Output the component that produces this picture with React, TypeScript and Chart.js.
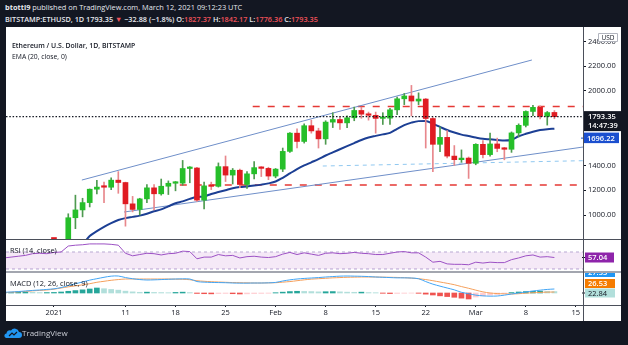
import React, { useEffect, useRef } from 'react';
import { Chart, registerables } from 'chart.js';

Chart.register(...registerables);

// ---------------- data (day 0 = 1 Jan 2021) ----------------
const OPEN = [
  737, 730, 775, 978, 1041, 1100, 1208, 1225, 1224, 1281,
  1262, 1090, 1045, 1130, 1219, 1171, 1232, 1256, 1257, 1375,
  1379, 1120, 1235, 1231, 1390, 1322, 1361, 1246, 1332, 1382,
  1376, 1314, 1370, 1513, 1660, 1593, 1720, 1678, 1614, 1749,
  1770, 1743, 1784, 1843, 1813, 1804, 1779, 1781, 1848, 1937,
  1960, 1919, 1935, 1778, 1570, 1626, 1475, 1446, 1459, 1417,
  1570, 1487, 1573, 1537, 1530, 1662, 1723, 1835, 1868, 1795,
  1827,
];
const HIGH = [
  749, 787, 1010, 1160, 1135, 1210, 1280, 1265, 1300, 1350,
  1265, 1150, 1135, 1245, 1245, 1290, 1275, 1270, 1440, 1390,
  1385, 1265, 1265, 1420, 1476, 1375, 1370, 1350, 1430, 1390,
  1385, 1375, 1540, 1665, 1695, 1735, 1765, 1700, 1760, 1825,
  1790, 1800, 1870, 1870, 1830, 1830, 1825, 1860, 1950, 1980,
  2045, 1985, 1940, 1785, 1710, 1680, 1560, 1525, 1468, 1575,
  1600, 1660, 1620, 1545, 1670, 1735, 1840, 1885, 1880, 1835,
  1842,
];
const LOW = [
  716, 715, 768, 890, 985, 1065, 1170, 1100, 1205, 1175,
  910, 1025, 1000, 1100, 1040, 1160, 1165, 1195, 1240, 1260,
  1110, 1050, 1205, 1225, 1270, 1250, 1220, 1215, 1290, 1310,
  1285, 1300, 1350, 1505, 1540, 1580, 1660, 1540, 1570, 1705,
  1690, 1705, 1760, 1780, 1765, 1660, 1730, 1730, 1810, 1890,
  1800, 1890, 1540, 1350, 1510, 1460, 1400, 1425, 1295, 1405,
  1460, 1475, 1510, 1445, 1505, 1630, 1710, 1800, 1775, 1725,
  1776,
];
const CLOSE = [
  730, 775, 978, 1041, 1100, 1208, 1225, 1224, 1281, 1262,
  1090, 1045, 1130, 1219, 1171, 1232, 1256, 1257, 1375, 1379,
  1120, 1235, 1231, 1390, 1322, 1361, 1246, 1332, 1382, 1376,
  1314, 1370, 1513, 1660, 1593, 1720, 1678, 1614, 1749, 1770,
  1743, 1784, 1843, 1813, 1804, 1779, 1781, 1848, 1937, 1960,
  1919, 1935, 1778, 1570, 1626, 1475, 1446, 1459, 1417, 1570,
  1487, 1573, 1537, 1530, 1662, 1723, 1835, 1868, 1795, 1826,
  1793,
];

const EMA_START_DAY = 4;
const EMA20 = [
  760, 830, 870, 905, 935, 960, 975, 985, 995, 1010,
  1030, 1045, 1070, 1095, 1110, 1130, 1145, 1150, 1170, 1185,
  1200, 1215, 1225, 1230, 1237, 1245, 1255, 1270, 1300, 1335,
  1370, 1400, 1425, 1450, 1480, 1505, 1530, 1555, 1580, 1605,
  1625, 1638, 1650, 1662, 1695, 1725, 1745, 1757, 1758, 1735,
  1710, 1685, 1665, 1648, 1637, 1625, 1615, 1610, 1605, 1600,
  1607, 1635, 1655, 1672, 1685, 1692, 1696,
];

// indicator series start on day -7 (25 Dec 2020)
const IND_START_DAY = -7;
const RSI = [
  56, 58, 60, 62, 66, 67, 66, 69, 70, 84,
  86, 87, 89, 89, 89, 88, 86, 67, 61, 64,
  67, 66, 63, 66, 67, 72, 71, 54, 58, 58,
  64, 61, 62, 56, 59, 60, 58, 57, 59, 65,
  69, 64, 68, 65, 62, 67, 68, 66, 67, 69,
  67, 66, 64, 64, 67, 70, 71, 68, 68, 58,
  46, 48, 42, 41, 41, 40, 46, 44, 46, 45,
  45, 52, 56, 61, 63, 58, 59, 57,
];
const MACD = [
  5, 7, 10, 14, 18, 21, 25, 29, 38, 52,
  65, 77, 90, 100, 110, 118, 119, 108, 100, 94,
  91, 92, 94, 96, 98, 99, 98, 80, 76, 74,
  73, 72, 70, 69, 69, 70, 70, 71, 74, 84,
  92, 98, 102, 105, 108, 112, 115, 118, 119, 118,
  117, 115, 112, 110, 108, 106, 106, 105, 100, 80,
  62, 48, 35, 22, 5, -5, -15, -20, -22, -21,
  -15, -7, 0, 7, 14, 20, 25, 28,
];
const SIGNAL = [
  2, 5, 8, 11, 15, 18, 21, 27, 35, 43,
  50, 57, 65, 75, 82, 89, 94, 98, 98, 98,
  98, 98, 98, 98, 97, 96, 93, 86, 82, 79,
  77, 75, 73, 72, 71, 70, 70, 71, 72, 76,
  80, 86, 92, 97, 100, 103, 106, 108, 110, 111,
  112, 112, 112, 111, 110, 109, 107, 104, 100, 94,
  86, 77, 68, 58, 45, 33, 20, 8, 0, -4,
  -6, -7, -5, -1, 2, 4, 6, 7,
];
const HIST = [
  4, 5, 6, 6, 5, 3, 3, 4, 7, 12,
  17, 22, 28, 35, 30, 25, 20, 13, 8, 5,
  6, 4, 3, 2, 4, 6, 3, -3, -5, -6,
  -4, -3, -5, -7, -6, -4, -3, -2, 2, 6,
  10, 12, 11, 10, 8, 9, 10, 8, 6, 5,
  6, 3, 2, -2, -4, -3, -2, -1, -2, -8,
  -14, -20, -25, -30, -36, -42, -28, -20, -14, -10,
  -4, 3, 7, 10, 12, 13, 12, 10,
];

// drawings (day, price)
const UPPER_CHANNEL = [[3.9, 1282], [66.85, 2250]];
const LOWER_CHANNEL = [[9.8, 1024], [74, 1548]];
const RESISTANCE = [[27.8, 1875], [74, 1875]];
const SUPPORT = [[17.6, 1242], [74, 1242]];
const BLUE_LEVEL = [[37.6, 1395], [74, 1438]];

const LAST_PRICE = 1793.35;
const LAST_EMA = 1696.22;
const LAST_RSI = 57.04;
const MACD_LABELS = ['27.33', '26.53', '22.84'];

const PRICE_TICKS = [1000, 1200, 1400, 1600, 1800, 2000, 2200, 2400];
const TIME_TICK_DAYS = [0, 10, 17, 24, 31, 38, 45, 52, 59, 66, 73];
const TIME_TICK_LABELS = ['2021', '11', '18', '25', 'Feb', '8', '15', '22', 'Mar', '8', '15'];

const X_MIN = -6.71;
const X_MAX = 74.0;

// ---------------- styles ----------------
const FONT = "'Open Sans', 'Noto Sans', sans-serif";
const INK = '#131722';
const GREEN = '#26bf2a';
const RED = '#e01b22';
const GREEN_WICK = '#4e9a50';
const RED_WICK = '#e8878c';
const CANVAS_W = 615;
const AXIS_W = 38;

const days = CLOSE.map((_, i) => i);
const pts = (arr: number[][]) => arr.map(([x, y]) => ({ x, y }));
const flat = (v: number) => [{ x: X_MIN, y: v }, { x: X_MAX, y: v }];

function histColor(i: number) {
  const v = HIST[i];
  const p = i > 0 ? HIST[i - 1] : v;
  if (v >= 0) return v >= p ? '#26a69a' : '#b2dfdb';
  return v <= p ? '#ef5350' : '#ffcdd2';
}

function box(ctx: CanvasRenderingContext2D, x: number, y: number, w: number, h: number, bg: string, txt: string, col: string, bold = true) {
  ctx.fillStyle = bg;
  ctx.fillRect(x, y, w, h);
  ctx.fillStyle = col;
  ctx.font = `${bold ? 600 : 400} 7.5px ${FONT}`;
  ctx.textBaseline = 'middle';
  ctx.textAlign = 'left';
  ctx.fillText(txt, x + 3, y + h / 2 + 0.5);
}

const mainLabels = {
  id: 'mainLabels',
  afterDraw(chart: any) {
    const { ctx, chartArea, scales } = chart;
    const y = scales.y;
    const x0 = chartArea.right + 1;
    ctx.save();
    // USD badge
    ctx.fillStyle = '#ffffff';
    ctx.strokeStyle = '#b2b5be';
    ctx.lineWidth = 1;
    ctx.beginPath();
    ctx.rect(x0 + 14.5, 6.5, 19, 8);
    ctx.fill();
    ctx.stroke();
    ctx.fillStyle = INK;
    ctx.font = `400 6.5px ${FONT}`;
    ctx.textBaseline = 'middle';
    ctx.textAlign = 'center';
    ctx.fillText('USD', x0 + 24, 10.8);
    // last price + countdown
    const yp = y.getPixelForValue(LAST_PRICE);
    ctx.fillStyle = INK;
    ctx.fillRect(x0, yp - 5.5, 37, 20);
    ctx.fillStyle = '#ffffff';
    ctx.textAlign = 'left';
    ctx.font = `600 7.5px ${FONT}`;
    ctx.fillText(LAST_PRICE.toFixed(2), x0 + 4, yp + 0.5);
    ctx.fillText('14:47:39', x0 + 4, yp + 9.5);
    // EMA value
    const ye = Math.max(y.getPixelForValue(LAST_EMA) - 5, yp + 16);
    box(ctx, x0, ye, 35, 10.5, '#1b4fcf', LAST_EMA.toFixed(2), '#ffffff');
    ctx.strokeStyle = '#1b4fcf';
    ctx.beginPath();
    ctx.moveTo(x0 - 3, ye + 5.5);
    ctx.lineTo(x0, ye + 5.5);
    ctx.stroke();
    ctx.restore();
  },
};

const rsiLabels = {
  id: 'rsiLabels',
  afterDraw(chart: any) {
    const { ctx, chartArea, scales } = chart;
    const x0 = chartArea.right + 1;
    const yv = scales.y.getPixelForValue(LAST_RSI);
    ctx.save();
    box(ctx, x0 + 1, yv - 5, 29, 10, '#8e24aa', LAST_RSI.toFixed(2), '#ffffff');
    ctx.strokeStyle = INK;
    ctx.beginPath();
    ctx.moveTo(x0 - 2, yv);
    ctx.lineTo(x0 + 1, yv);
    ctx.stroke();
    ctx.restore();
  },
};

const macdLabels = {
  id: 'macdLabels',
  afterDraw(chart: any) {
    const { ctx, chartArea } = chart;
    const x0 = chartArea.right + 1;
    const t = chartArea.top;
    ctx.save();
    box(ctx, x0 + 1, t - 6, 30, 10, '#2196f3', MACD_LABELS[0], '#ffffff');
    box(ctx, x0 + 1, t + 6, 30, 9, '#f57c00', MACD_LABELS[1], '#ffffff');
    box(ctx, x0 + 1, t + 15.5, 30, 9, '#b2dfdb', MACD_LABELS[2], INK, false);
    ctx.strokeStyle = INK;
    ctx.beginPath();
    ctx.moveTo(x0 - 2, t + 20);
    ctx.lineTo(x0 + 1, t + 20);
    ctx.stroke();
    ctx.restore();
  },
};

function buildMain(): any {
  const lineDs = (data: any[], color: string, width: number, dash: number[] = [], order = 4) => ({
    type: 'line', data, borderColor: color, borderWidth: width, borderDash: dash,
    pointRadius: 0, fill: false, tension: 0, order,
  });
  return {
    type: 'bar',
    data: {
      datasets: [
        {
          type: 'bar', data: days.map((i) => ({ x: i, y: [OPEN[i], CLOSE[i]] })),
          backgroundColor: days.map((i) => (CLOSE[i] >= OPEN[i] ? GREEN : RED)),
          barThickness: 5, grouped: false, minBarLength: 1.5, borderWidth: 0, order: 1,
        },
        {
          type: 'bar', data: days.map((i) => ({ x: i, y: [LOW[i], HIGH[i]] })),
          backgroundColor: days.map((i) => (CLOSE[i] >= OPEN[i] ? GREEN_WICK : RED_WICK)),
          barThickness: 1, grouped: false, borderWidth: 0, order: 2,
        },
        {
          type: 'line', data: EMA20.map((v, i) => ({ x: EMA_START_DAY + i, y: v })),
          borderColor: '#1c3f94', borderWidth: 2, pointRadius: 0, fill: false,
          cubicInterpolationMode: 'monotone', order: 3,
        },
        lineDs(pts(UPPER_CHANNEL), '#6f8fc9', 1),
        lineDs(pts(LOWER_CHANNEL), '#6f8fc9', 1),
        lineDs(pts(RESISTANCE), '#e53935', 1.6, [7, 8]),
        lineDs(pts(SUPPORT), '#e53935', 1.6, [7, 8]),
        lineDs(pts(BLUE_LEVEL), '#90c8f0', 1, [4, 4]),
        lineDs(flat(LAST_PRICE), INK, 1.2, [1.5, 1.8], 0),
      ],
    },
    options: {
      responsive: false, animation: false, events: [],
      layout: { padding: 0 },
      plugins: { legend: { display: false }, tooltip: { enabled: false } },
      scales: {
        x: { type: 'linear', min: X_MIN, max: X_MAX, display: false, offset: false, grid: { offset: false } },
        y: {
          position: 'right', min: 806.5, max: 2516,
          afterBuildTicks: (s: any) => { s.ticks = PRICE_TICKS.map((v) => ({ value: v })); },
          afterFit: (s: any) => { s.width = AXIS_W; s.paddingTop = 0; s.paddingBottom = 0; },
          ticks: { font: { family: FONT, size: 7.5 }, color: INK, padding: 2, callback: (v: any) => Number(v).toFixed(2) },
          grid: { drawOnChartArea: false, tickLength: 3, color: INK },
          border: { display: false },
        },
      },
    },
    plugins: [mainLabels],
  };
}

function buildRsi(): any {
  return {
    type: 'line',
    data: {
      datasets: [
        {
          data: RSI.map((v, i) => ({ x: IND_START_DAY + i, y: v })),
          borderColor: '#9c51c4', borderWidth: 1, pointRadius: 0, fill: false, tension: 0,
        },
        {
          data: flat(70), borderColor: '#b8a9d3', borderWidth: 1, borderDash: [3, 3], pointRadius: 0,
          fill: { value: 30 }, backgroundColor: 'rgba(156, 39, 176, 0.1)',
        },
        { data: flat(30), borderColor: '#b8a9d3', borderWidth: 1, borderDash: [3, 3], pointRadius: 0, fill: false },
      ],
    },
    options: {
      responsive: false, animation: false, events: [],
      layout: { padding: { right: AXIS_W } },
      plugins: { legend: { display: false }, tooltip: { enabled: false } },
      scales: {
        x: { type: 'linear', min: X_MIN, max: X_MAX, display: false },
        y: { min: 25.3, max: 98.2, display: false },
      },
    },
    plugins: [rsiLabels],
  };
}

function buildMacd(): any {
  return {
    type: 'bar',
    data: {
      datasets: [
        {
          type: 'line', data: MACD.map((v, i) => ({ x: IND_START_DAY + i, y: v })),
          borderColor: '#42a5f5', borderWidth: 1, pointRadius: 0, fill: false, tension: 0.3, order: 0,
        },
        {
          type: 'line', data: SIGNAL.map((v, i) => ({ x: IND_START_DAY + i, y: v })),
          borderColor: '#f5a05c', borderWidth: 1, pointRadius: 0, fill: false, tension: 0.3, order: 0,
        },
        {
          type: 'bar', data: HIST.map((v, i) => ({ x: IND_START_DAY + i, y: v })),
          backgroundColor: HIST.map((_, i) => histColor(i)),
          barThickness: 5, grouped: false, borderWidth: 0, order: 1,
        },
      ],
    },
    options: {
      responsive: false, animation: false, events: [],
      layout: { padding: { right: AXIS_W } },
      plugins: { legend: { display: false }, tooltip: { enabled: false } },
      scales: {
        x: {
          type: 'linear', min: X_MIN, max: X_MAX, offset: false, position: 'bottom',
          afterBuildTicks: (s: any) => { s.ticks = TIME_TICK_DAYS.map((v) => ({ value: v })); },
          afterFit: (s: any) => { s.height = 16; s.paddingLeft = 0; s.paddingRight = 0; },
          ticks: {
            autoSkip: false, maxRotation: 0, minRotation: 0, padding: 1,
            font: { family: FONT, size: 7.5 }, color: INK,
            callback: (_v: any, idx: number) => TIME_TICK_LABELS[idx],
          },
          grid: { display: true, drawOnChartArea: false, drawTicks: true, tickLength: 2, color: INK, offset: false },
          border: { display: false },
        },
        y: { min: -84, max: 140, display: false },
      },
    },
    plugins: [macdLabels],
  };
}

function ChartCanvas({ left, top, height, build }: { left: number; top: number; height: number; build: () => any }) {
  const ref = useRef<HTMLCanvasElement>(null);
  useEffect(() => {
    const chart = new Chart(ref.current as HTMLCanvasElement, build());
    return () => chart.destroy();
  }, []);
  return (
    <canvas
      ref={ref}
      width={CANVAS_W}
      height={height}
      style={{ position: 'absolute', left, top, width: CANVAS_W, height, display: 'block' }}
    />
  );
}

const txt = (left: number, top: number, size: number, color: string, weight = 400): React.CSSProperties => ({
  position: 'absolute', left, top, fontSize: size, lineHeight: '10px', color, fontWeight: weight,
  whiteSpace: 'nowrap', fontFamily: FONT,
});

export default function App() {
  const R = { color: '#f0525a' };
  return (
    <div style={{ position: 'fixed', left: 0, top: 0, width: 628, height: 345, background: INK, overflow: 'hidden' }}>
      <div style={txt(5, 2, 7.4, '#e6e8ee')}>
        <b>btotti9</b> published on TradingView.com, March 12, 2021 09:12:23 UTC
      </div>
      <div style={txt(5, 14, 7.3, '#e6e8ee', 600)}>
        BITSTAMP:ETHUSD, 1D 1793.35 <span style={R}>▼</span> −32.88 (−1.8%) O:<span style={R}>1827.37</span> H:
        <span style={R}>1842.17</span> L:<span style={R}>1776.36</span> C:<span style={R}>1793.35</span>
      </div>

      <div style={{ position: 'absolute', left: 6, top: 27, width: 615, height: 294, background: '#ffffff' }} />

      <ChartCanvas left={6} top={27} height={212} build={buildMain} />
      <ChartCanvas left={6} top={240} height={31} build={buildRsi} />
      <ChartCanvas left={6} top={273} height={48} build={buildMacd} />

      <div style={{ position: 'absolute', left: 6, top: 239, width: 615, height: 1, background: '#4b4f5a' }} />
      <div style={{ position: 'absolute', left: 6, top: 271, width: 615, height: 2, background: '#a3a6af' }} />
      <div style={{ position: 'absolute', left: 6, top: 305, width: 615, height: 1, background: '#4b4f5a' }} />
      <div style={{ position: 'absolute', left: 583, top: 27, width: 1, height: 294, background: '#4b4f5a' }} />

      <div style={txt(12, 41, 6.9, INK, 600)}>Ethereum / U.S. Dollar, 1D, BITSTAMP</div>
      <div style={txt(12, 52, 6.8, INK)}>EMA (20, close, 0)</div>
      <div style={txt(10, 245, 7.4, INK)}>RSI (14, close)</div>
      <div style={txt(10, 278, 7.4, INK)}>MACD (12, 26, close, 9)</div>

      <svg style={{ position: 'absolute', left: 4, top: 327 }} width={18} height={12} viewBox="0 0 18 12">
        <path d="M2 11 L15 11 A3 3 0 0 0 15 5 A4.5 4.5 0 0 0 7 3.5 A3.2 3.2 0 0 0 2.5 6.5 A2.3 2.3 0 0 0 2 11 Z" fill="#2196f3" />
        <path d="M5 9 L8 6 L10 8 L13 5" stroke="#131722" strokeWidth={1.2} fill="none" />
      </svg>
      <div style={txt(22, 328, 8, '#c9ccd4')}>TradingView</div>
    </div>
  );
}
